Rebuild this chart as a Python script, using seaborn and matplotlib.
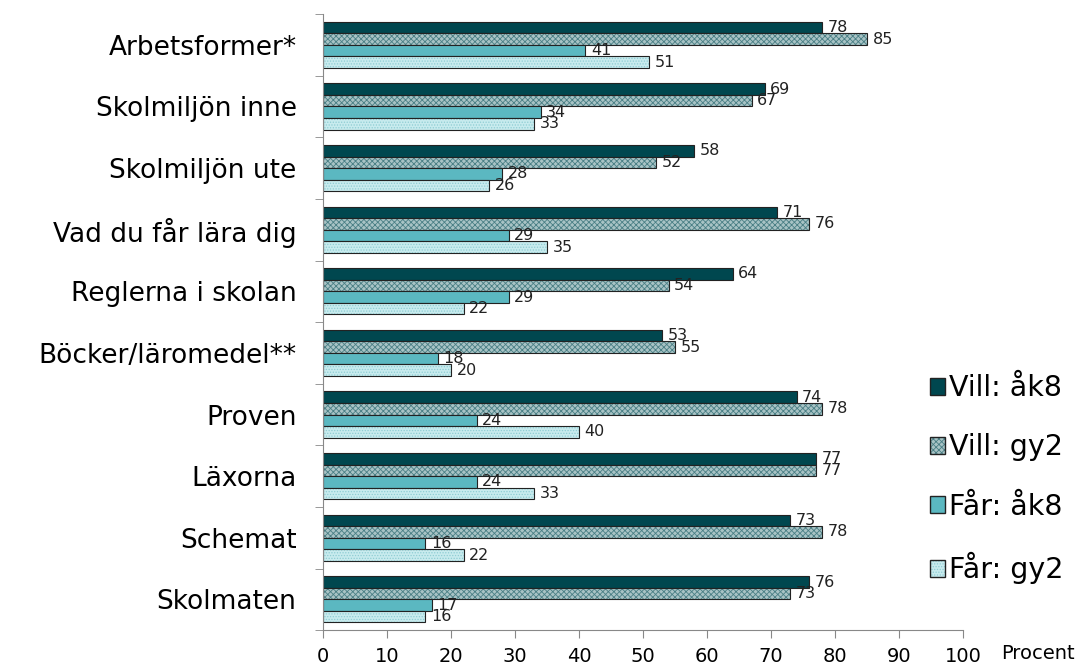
import pandas as pd
import numpy as np
import matplotlib
matplotlib.use("Agg")
import matplotlib.pyplot as plt
import seaborn as sns

# Data
categories = ["Arbetsformer*", "Skolmiljön inne", "Skolmiljön ute", "Vad du får lära dig",
              "Reglerna i skolan", "Böcker/läromedel**", "Proven", "Läxorna", "Schemat", "Skolmaten"]
series = ["Vill: åk8", "Vill: gy2", "Får: åk8", "Får: gy2"]
vill_ak8 = [78, 69, 58, 71, 64, 53, 74, 77, 73, 76]
vill_gy2 = [85, 67, 52, 76, 54, 55, 78, 77, 78, 73]
far_ak8 = [41, 34, 28, 29, 29, 18, 24, 24, 16, 17]
far_gy2 = [51, 33, 26, 35, 22, 20, 40, 33, 22, 16]

df = pd.DataFrame({"Kategori": categories * 4,
                   "Serie": np.repeat(series, len(categories)),
                   "Procent": vill_ak8 + vill_gy2 + far_ak8 + far_gy2})

sns.set_style("white")
plt.rcParams["font.family"] = ["DejaVu Sans"]
plt.rcParams["hatch.linewidth"] = 0.6

fig = plt.figure(figsize=(10.82, 6.69), dpi=100)
ax = fig.add_axes([0.2985, 0.058, 0.5915, 0.921])

colors = ["#00474f", "#a8c3c5", "#5bb8c1", "#c8ebee"]
hatches = [None, "xxxxxx", None, "......"]
hatch_cols = ["#00474f", "#4a7f85", "#5bb8c1", "#8fcdd3"]

sns.barplot(data=df, y="Kategori", x="Procent", hue="Serie", order=categories,
            hue_order=series, palette=colors, orient="h", width=0.75,
            saturation=1, ax=ax, legend=True)

for cont, h, hc, fc in zip(ax.containers, hatches, hatch_cols, colors):
    for bar in cont:
        bar.set_edgecolor("#222222")
        bar.set_linewidth(0.8)
        if h:
            bar.set_hatch(h)
            bar._hatch_color = matplotlib.colors.to_rgba(hc)
    ax.bar_label(cont, fmt="%d", padding=4, fontsize=11.5, color="#222222")

ax.set_xlim(0, 100)
ax.set_ylim(9.5, -0.5)
ax.set_xticks(range(0, 101, 10))
ax.set_xlabel("")
ax.set_ylabel("")
ax.tick_params(axis="x", labelsize=14, length=6, direction="out", color="#888888",
               bottom=True, labelcolor="black", pad=6)
ax.tick_params(axis="y", which="major", labelsize=19, length=0, pad=19, labelcolor="black")
ax.set_yticks(np.arange(-0.5, 10, 1), minor=True)
ax.tick_params(axis="y", which="minor", length=6, color="#888888", left=True)
for s in ["top", "right"]:
    ax.spines[s].set_visible(False)
for s in ["left", "bottom"]:
    ax.spines[s].set_color("#888888")

ax.text(1.06, -0.022, "Procent", transform=ax.transAxes, fontsize=14, ha="left", va="top",
        color="black")

handles, labels = ax.get_legend_handles_labels()
for hnd, h, hc in zip(handles, hatches, hatch_cols):
    hnd.set_edgecolor("#222222")
    if h:
        hnd.set_hatch(h)
        hnd._hatch_color = matplotlib.colors.to_rgba(hc)
ax.legend(handles, labels, loc="center left", bbox_to_anchor=(0.93, 0.245), frameon=False,
          fontsize=20.5, handlelength=0.55, handleheight=0.55, handletextpad=0.15,
          labelspacing=1.1, borderaxespad=0, labelcolor="black")

fig.savefig("out.png", dpi=100)
